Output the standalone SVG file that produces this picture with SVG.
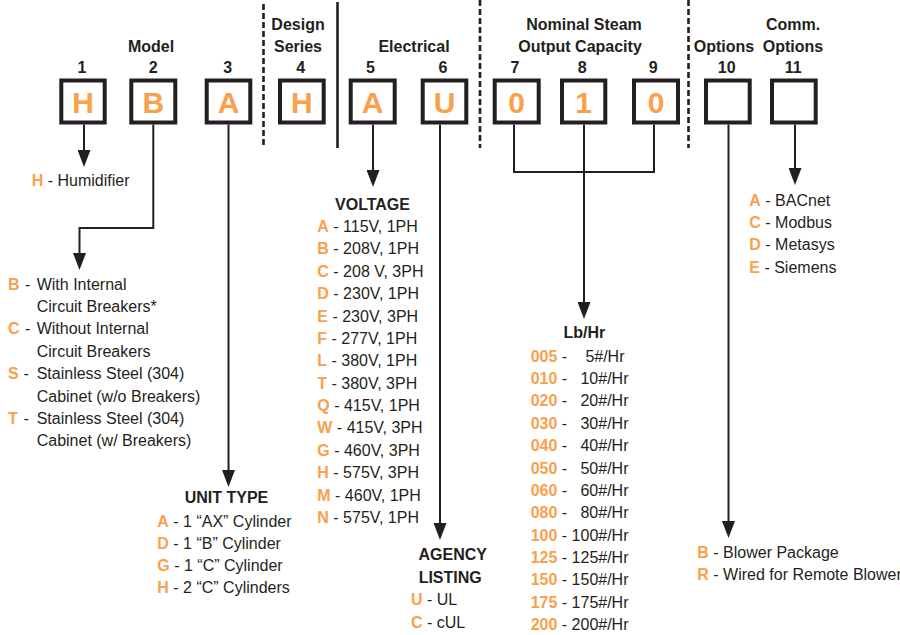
<svg xmlns="http://www.w3.org/2000/svg" width="900" height="635" viewBox="0 0 900 635">
<defs>
<style>
text{font-family:"Liberation Sans",Arial,sans-serif;fill:#231f20;font-size:16px}
.b{font-weight:bold}
.o{fill:#f9a04b;font-weight:bold}
.hd{font-weight:bold;font-size:16px;text-anchor:middle}
.num{font-weight:bold;font-size:16px;text-anchor:middle}
.big{fill:#f9a04b;font-weight:bold;font-size:30px;text-anchor:middle}
.box{fill:#fff;stroke:#231f20;stroke-width:4}
.sep{stroke:#231f20;stroke-width:2.6;fill:none}
.dash{stroke-dasharray:6 3}
.con{stroke:#231f20;stroke-width:2;fill:none}
.arr{marker-end:url(#ah)}
.mid{text-anchor:middle}
.end{text-anchor:end}
</style>
<marker id="ah" markerUnits="userSpaceOnUse" markerWidth="17" markerHeight="13" refX="7" refY="6.5" orient="auto" viewBox="0 0 17 13">
<path d="M0,0 L17,6.5 L0,13 z" fill="#231f20"/>
</marker>
</defs>
<rect width="900" height="635" fill="#fff"/>

<g id="separators">
<line class="sep dash" x1="263.5" y1="4" x2="263.5" y2="148"/>
<line class="sep" x1="337.5" y1="2" x2="337.5" y2="148"/>
<line class="sep dash" x1="480" y1="0" x2="480" y2="148"/>
<line class="sep dash" x1="688.5" y1="0" x2="688.5" y2="148"/>
</g>

<g id="headers">
<text class="hd" x="151" y="51.5">Model</text>
<text class="hd" x="298" y="29.5">Design</text>
<text class="hd" x="298" y="51.5">Series</text>
<text class="hd" x="414" y="51.5">Electrical</text>
<text class="hd" x="584" y="29.5">Nominal Steam</text>
<text class="hd" x="580" y="51.5">Output Capacity</text>
<text class="hd" x="724" y="51.5">Options</text>
<text class="hd" x="793" y="29.5">Comm.</text>
<text class="hd" x="793" y="51.5">Options</text>
</g>

<g id="connectors">
<polyline class="con arr" points="84,124.5 84,157"/>
<polyline class="con arr" points="153.3,124.5 153.3,228 79.5,228 79.5,260"/>
<polyline class="con arr" points="228.5,124.5 228.5,477"/>
<polyline class="con arr" points="373,124.5 373,177"/>
<polyline class="con arr" points="440,124.5 440,530"/>
<polyline class="con" points="514,124.5 514,172 654,172 654,124.5"/>
<polyline class="con arr" points="584,124.5 584,309"/>
<polyline class="con arr" points="728.5,124.5 728.5,528"/>
<polyline class="con arr" points="795,124.5 795,175"/>
</g>

<g id="box1"><text class="num" x="82" y="72.7">1</text><rect class="box" x="61.3" y="80.5" width="43.4" height="42"/><text class="big" x="83" y="113">H</text></g>
<g id="box2"><text class="num" x="153.3" y="72.7">2</text><rect class="box" x="131.3" y="80.5" width="44" height="42"/><text class="big" x="153.3" y="113">B</text></g>
<g id="box3"><text class="num" x="227.7" y="72.7">3</text><rect class="box" x="206.7" y="80.5" width="43.6" height="42"/><text class="big" x="228.5" y="113">A</text></g>
<g id="box4"><text class="num" x="300.7" y="72.7">4</text><rect class="box" x="280" y="80.5" width="43.7" height="42"/><text class="big" x="301.8" y="113">H</text></g>
<g id="box5"><text class="num" x="370.5" y="72.7">5</text><rect class="box" x="350.7" y="80.5" width="44" height="42"/><text class="big" x="372.7" y="113">A</text></g>
<g id="box6"><text class="num" x="443" y="72.7">6</text><rect class="box" x="422.7" y="80.5" width="43.6" height="42"/><text class="big" x="444.5" y="113">U</text></g>
<g id="box7"><text class="num" x="515" y="72.7">7</text><rect class="box" x="494.7" y="80.5" width="44" height="42"/><text class="big" x="516.7" y="113">0</text></g>
<g id="box8"><text class="num" x="582.3" y="72.7">8</text><rect class="box" x="562" y="80.5" width="43.3" height="42"/><text class="big" x="583.7" y="113">1</text></g>
<g id="box9"><text class="num" x="653.3" y="72.7">9</text><rect class="box" x="634" y="80.5" width="44" height="42"/><text class="big" x="656" y="113">0</text></g>
<g id="box10"><text class="num" x="726.7" y="72.7">10</text><rect class="box" x="706" y="80.5" width="43.7" height="42"/></g>
<g id="box11"><text class="num" x="793.3" y="72.7">11</text><rect class="box" x="772" y="80.5" width="43.7" height="42"/></g>

<g id="model-list">
<text x="31.7" y="186"><tspan class="o">H</tspan> - Humidifier</text>
<text y="290"><tspan class="o" x="8">B</tspan><tspan x="25">-</tspan><tspan x="36.7">With Internal</tspan></text>
<text x="36.7" y="312">Circuit Breakers*</text>
<text y="334.3"><tspan class="o" x="8">C</tspan><tspan x="25">-</tspan><tspan x="36.7">Without Internal</tspan></text>
<text x="36.7" y="356.7">Circuit Breakers</text>
<text y="379"><tspan class="o" x="8">S</tspan><tspan x="23.5">-</tspan><tspan x="36.7">Stainless Steel (304)</tspan></text>
<text x="36.7" y="401.5">Cabinet (w/o Breakers)</text>
<text y="424"><tspan class="o" x="8">T</tspan><tspan x="23.5">-</tspan><tspan x="36.7">Stainless Steel (304)</tspan></text>
<text x="36.7" y="446.3">Cabinet (w/ Breakers)</text>
</g>

<g id="unit-type">
<text class="b mid" x="226.5" y="503.3">UNIT TYPE</text>
<text x="157.3" y="527"><tspan class="o">A</tspan> - 1 “AX” Cylinder</text>
<text x="157.3" y="549"><tspan class="o">D</tspan> - 1 “B” Cylinder</text>
<text x="157.3" y="571"><tspan class="o">G</tspan> - 1 “C” Cylinder</text>
<text x="157.3" y="593"><tspan class="o">H</tspan> - 2 “C” Cylinders</text>
</g>

<g id="voltage">
<text class="b mid" x="372.5" y="210">VOLTAGE</text>
<text x="317.3" y="231.7"><tspan class="o">A</tspan> - 115V, 1PH</text>
<text x="317.3" y="254"><tspan class="o">B</tspan> - 208V, 1PH</text>
<text x="317.3" y="276.5"><tspan class="o">C</tspan> - 208 V, 3PH</text>
<text x="317.3" y="299"><tspan class="o">D</tspan> - 230V, 1PH</text>
<text x="317.3" y="321.5"><tspan class="o">E</tspan> - 230V, 3PH</text>
<text x="317.3" y="344"><tspan class="o">F</tspan> - 277V, 1PH</text>
<text x="317.3" y="366.2"><tspan class="o">L</tspan> - 380V, 1PH</text>
<text x="317.3" y="388.5"><tspan class="o">T</tspan> - 380V, 3PH</text>
<text x="317.3" y="411"><tspan class="o">Q</tspan> - 415V, 1PH</text>
<text x="317.3" y="433.3"><tspan class="o">W</tspan> - 415V, 3PH</text>
<text x="317.3" y="455.7"><tspan class="o">G</tspan> - 460V, 3PH</text>
<text x="317.3" y="478"><tspan class="o">H</tspan> - 575V, 3PH</text>
<text x="317.3" y="500.5"><tspan class="o">M</tspan> - 460V, 1PH</text>
<text x="317.3" y="522.7"><tspan class="o">N</tspan> - 575V, 1PH</text>
</g>

<g id="agency">
<text class="b mid" x="452.7" y="560">AGENCY</text>
<text class="b mid" x="450.2" y="582.5">LISTING</text>
<text x="411" y="604.5"><tspan class="o">U</tspan> - UL</text>
<text x="411" y="627.5"><tspan class="o">C</tspan> - cUL</text>
</g>

<g id="capacity">
<text class="b mid" x="584.3" y="338.3">Lb/Hr</text>
<text x="530.7" y="361.7"><tspan class="o">005</tspan> -</text><text class="end" x="624.5" y="361.7">5#/Hr</text>
<text x="530.7" y="384"><tspan class="o">010</tspan> -</text><text class="end" x="628.5" y="384">10#/Hr</text>
<text x="530.7" y="406.4"><tspan class="o">020</tspan> -</text><text class="end" x="628.5" y="406.4">20#/Hr</text>
<text x="530.7" y="428.8"><tspan class="o">030</tspan> -</text><text class="end" x="628.5" y="428.8">30#/Hr</text>
<text x="530.7" y="451.1"><tspan class="o">040</tspan> -</text><text class="end" x="628.5" y="451.1">40#/Hr</text>
<text x="530.7" y="473.5"><tspan class="o">050</tspan> -</text><text class="end" x="628.5" y="473.5">50#/Hr</text>
<text x="530.7" y="495.9"><tspan class="o">060</tspan> -</text><text class="end" x="628.5" y="495.9">60#/Hr</text>
<text x="530.7" y="518.2"><tspan class="o">080</tspan> -</text><text class="end" x="628.5" y="518.2">80#/Hr</text>
<text x="530.7" y="540.6"><tspan class="o">100</tspan> -</text><text class="end" x="628.5" y="540.6">100#/Hr</text>
<text x="530.7" y="563"><tspan class="o">125</tspan> -</text><text class="end" x="628.5" y="563">125#/Hr</text>
<text x="530.7" y="585.3"><tspan class="o">150</tspan> -</text><text class="end" x="628.5" y="585.3">150#/Hr</text>
<text x="530.7" y="607.7"><tspan class="o">175</tspan> -</text><text class="end" x="628.5" y="607.7">175#/Hr</text>
<text x="530.7" y="630"><tspan class="o">200</tspan> -</text><text class="end" x="628.5" y="630">200#/Hr</text>
</g>

<g id="options">
<text x="697.3" y="557.7"><tspan class="o">B</tspan> - Blower Package</text>
<text x="697.3" y="580"><tspan class="o">R</tspan> - Wired for Remote Blower</text>
</g>

<g id="comm-options">
<text x="749.3" y="206"><tspan class="o">A</tspan> - BACnet</text>
<text x="749.3" y="228.3"><tspan class="o">C</tspan> - Modbus</text>
<text x="749.3" y="250.3"><tspan class="o">D</tspan> - Metasys</text>
<text x="749.3" y="272.7"><tspan class="o">E</tspan> - Siemens</text>
</g>
</svg>
